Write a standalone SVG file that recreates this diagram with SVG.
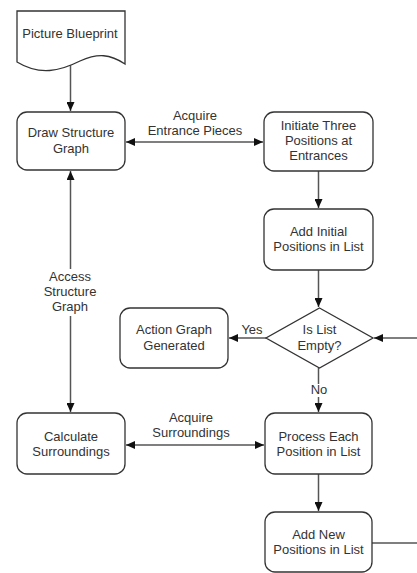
<svg xmlns="http://www.w3.org/2000/svg" width="417" height="573" viewBox="0 0 417 573">
<defs>
<marker id="ah" markerWidth="9" markerHeight="8" refX="9" refY="4" orient="auto-start-reverse" markerUnits="userSpaceOnUse">
<path d="M0,0 L9,4 L0,8 Z" fill="#111"/>
</marker>
<style>
.box{fill:#fff;stroke:#333;stroke-width:1.3}
.t{font-family:"Liberation Sans",Arial,sans-serif;font-size:13px;fill:#333;text-anchor:middle}
.c{fill:none;stroke:#555;stroke-width:1.5}
</style>
</defs>
<rect width="417" height="573" fill="#fff"/>
<g id="connectors">
<line class="c" x1="70.5" y1="64" x2="70.5" y2="111" marker-end="url(#ah)"/>
<line class="c" x1="126" y1="142" x2="263" y2="142" marker-start="url(#ah)" marker-end="url(#ah)"/>
<line class="c" x1="318.5" y1="171" x2="318.5" y2="208" marker-end="url(#ah)"/>
<line class="c" x1="318.5" y1="270" x2="318.5" y2="307" marker-end="url(#ah)"/>
<line class="c" x1="266" y1="338" x2="229" y2="338" marker-end="url(#ah)"/>
<line class="c" x1="318.5" y1="368" x2="318.5" y2="384"/>
<line class="c" x1="318.5" y1="397" x2="318.5" y2="412" marker-end="url(#ah)"/>
<line class="c" x1="126" y1="445" x2="264" y2="445" marker-start="url(#ah)" marker-end="url(#ah)"/>
<line class="c" x1="318.5" y1="474" x2="318.5" y2="511" marker-end="url(#ah)"/>
<polyline class="c" points="372,543 420,543 420,338 374,338" marker-end="url(#ah)"/>
<line class="c" x1="70.5" y1="171" x2="70.5" y2="269" marker-start="url(#ah)"/>
<line class="c" x1="70.5" y1="316" x2="70.5" y2="412" marker-end="url(#ah)"/>
<text class="t" x="195" y="120">Acquire</text>
<text class="t" x="195" y="135">Entrance Pieces</text>
<text class="t" x="252" y="334">Yes</text>
<text class="t" x="319" y="394">No</text>
<text class="t" x="191" y="422">Acquire</text>
<text class="t" x="191" y="437">Surroundings</text>
<text class="t" x="70" y="281">Access</text>
<text class="t" x="70" y="296">Structure</text>
<text class="t" x="70" y="311">Graph</text>
</g>
<g id="blueprint">
<path class="box" d="M17,11 H125 V64 C110,54 98,53 80,61 C60,71 40,76 17,62 Z"/>
<text class="t" x="70" y="38">Picture Blueprint</text>
</g>
<g id="draw">
<rect class="box" x="17" y="112" width="108" height="58" rx="10"/>
<text class="t" x="71" y="137">Draw Structure</text>
<text class="t" x="71" y="153">Graph</text>
</g>
<g id="initiate">
<rect class="box" x="264" y="112" width="109" height="59" rx="10"/>
<text class="t" x="318.5" y="130">Initiate Three</text>
<text class="t" x="318.5" y="145">Positions at</text>
<text class="t" x="318.5" y="160">Entrances</text>
</g>
<g id="addinitial">
<rect class="box" x="264" y="209" width="109" height="61" rx="10"/>
<text class="t" x="318.5" y="236">Add Initial</text>
<text class="t" x="318.5" y="251">Positions in List</text>
</g>
<g id="decision">
<polygon class="box" points="319.5,308 373,338 319.5,368 266,338"/>
<text class="t" x="319.5" y="334">Is List</text>
<text class="t" x="319.5" y="350">Empty?</text>
</g>
<g id="action">
<rect class="box" x="120" y="308" width="108" height="60" rx="10"/>
<text class="t" x="174" y="334">Action Graph</text>
<text class="t" x="174" y="350">Generated</text>
</g>
<g id="calculate">
<rect class="box" x="17" y="413" width="108" height="61" rx="10"/>
<text class="t" x="71" y="441">Calculate</text>
<text class="t" x="71" y="456">Surroundings</text>
</g>
<g id="process">
<rect class="box" x="265" y="413" width="107" height="61" rx="10"/>
<text class="t" x="318.5" y="441">Process Each</text>
<text class="t" x="318.5" y="456">Position in List</text>
</g>
<g id="addnew">
<rect class="box" x="265" y="512" width="107" height="60" rx="10"/>
<text class="t" x="318.5" y="539">Add New</text>
<text class="t" x="318.5" y="554">Positions in List</text>
</g>
</svg>
